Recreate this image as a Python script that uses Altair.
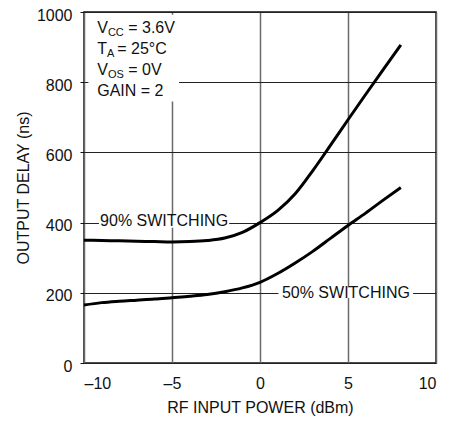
import altair as alt
import pandas as pd

# ---- data ----
rf_power = [-10, -9, -8, -7, -6, -5, -4, -3, -2, -1, 0, 1, 2, 3, 4, 5, 6, 7, 8]
delay_90 = [350, 349, 348, 347, 346, 345, 346, 349, 356, 372, 400, 434, 482, 548, 620, 693, 765, 836, 906]
delay_50 = [165, 172, 176, 179, 182, 186, 190, 195, 203, 214, 230, 255, 285, 318, 355, 392, 427, 464, 500]

x_ticks = [-10, -5, 0, 5, 10]
y_ticks = [0, 200, 400, 600, 800, 1000]

curve_labels = ["90% SWITCHING", "50% SWITCHING"]
cond_base = ["V", "T", "V", "GAIN = 2"]
cond_sub = ["CC", "A", "OS", ""]
cond_rest = ["= 3.6V", "= 25°C", "= 0V", ""]

FONT = "Liberation Sans"
INK = "#111"

rows = []
for xv, a, b in zip(rf_power, delay_90, delay_50):
    rows.append({"x": xv, "y": a, "series": "90%"})
    rows.append({"x": xv, "y": b, "series": "50%"})
df = pd.DataFrame(rows)

X = alt.X("x:Q", scale=alt.Scale(domain=[-10, 10], nice=False),
          axis=alt.Axis(values=x_ticks, title="RF INPUT POWER (dBm)", ticks=False,
                        labelPadding=12, gridColor="#6a6a6a", gridWidth=1.5,
                        labelExpr="datum.value < 0 ? '–' + abs(datum.value) : '' + datum.value",
                        titlePadding=8, domain=False))
Y = alt.Y("y:Q", scale=alt.Scale(domain=[0, 1000], nice=False),
          axis=alt.Axis(values=y_ticks, title="OUTPUT DELAY (ns)", tickSize=4, format="d",
                        tickColor=INK, labelPadding=8, labelOffset=3, gridColor="#222",
                        gridWidth=1, titlePadding=5, domain=False))

lines = alt.Chart(df).mark_line(color="black", strokeWidth=3, interpolate="monotone").encode(
    x=X, y=Y, detail="series:N")

# white backgrounds behind annotations (break the grid like the reference)
bg = pd.DataFrame({
    "x": [-9.75, -9.15, 1.05],
    "x2": [-4.6, -1.75, 8.7],
    "y": [745, 385, 185],
    "y2": [992, 420, 215],
})
bgs = alt.Chart(bg).mark_rect(color="white").encode(x=X, x2="x2:Q", y=Y, y2="y2:Q")

lab = pd.DataFrame({"x": [-5.45, 4.88], "y": [405, 200], "t": curve_labels})
labels = alt.Chart(lab).mark_text(font=FONT, fontSize=16, color=INK, baseline="middle",
                                  align="center").encode(x=X, y=Y, text="t:N")

cond_y = [940, 880, 821, 761]
cx = -9.25
sub_dx = [10.7, 9.8, 10.7, 0]
rest_dx = [31, 20, 31, 0]
layers = []
for i in range(4):
    d = pd.DataFrame({"x": [cx], "y": [cond_y[i]], "t": [cond_base[i]]})
    layers.append(alt.Chart(d).mark_text(font=FONT, fontSize=16, color=INK, align="left",
                                         baseline="alphabetic").encode(x=X, y=Y, text="t:N"))
    if cond_sub[i]:
        d = pd.DataFrame({"x": [cx], "y": [cond_y[i]], "t": [cond_sub[i]]})
        layers.append(alt.Chart(d).mark_text(font=FONT, fontSize=11, color=INK, align="left",
                                             baseline="alphabetic", dx=sub_dx[i], dy=3)
                      .encode(x=X, y=Y, text="t:N"))
    if cond_rest[i]:
        d = pd.DataFrame({"x": [cx], "y": [cond_y[i]], "t": [cond_rest[i]]})
        layers.append(alt.Chart(d).mark_text(font=FONT, fontSize=16, color=INK, align="left",
                                             baseline="alphabetic", dx=rest_dx[i])
                      .encode(x=X, y=Y, text="t:N"))

chart = alt.layer(bgs, lines, labels, *layers).properties(
    width=352, height=351,
    autosize=alt.AutoSizeParams(type="none"),
    padding={"left": 76, "top": 4, "right": 15, "bottom": 55},
).configure_view(stroke=INK, strokeWidth=1.5).configure_axis(
    labelFont=FONT, titleFont=FONT, labelFontSize=16, titleFontSize=16,
    labelColor=INK, titleColor=INK, titleFontWeight="normal",
)

chart.save("out.html", embed_options={"renderer": "svg", "actions": False})
